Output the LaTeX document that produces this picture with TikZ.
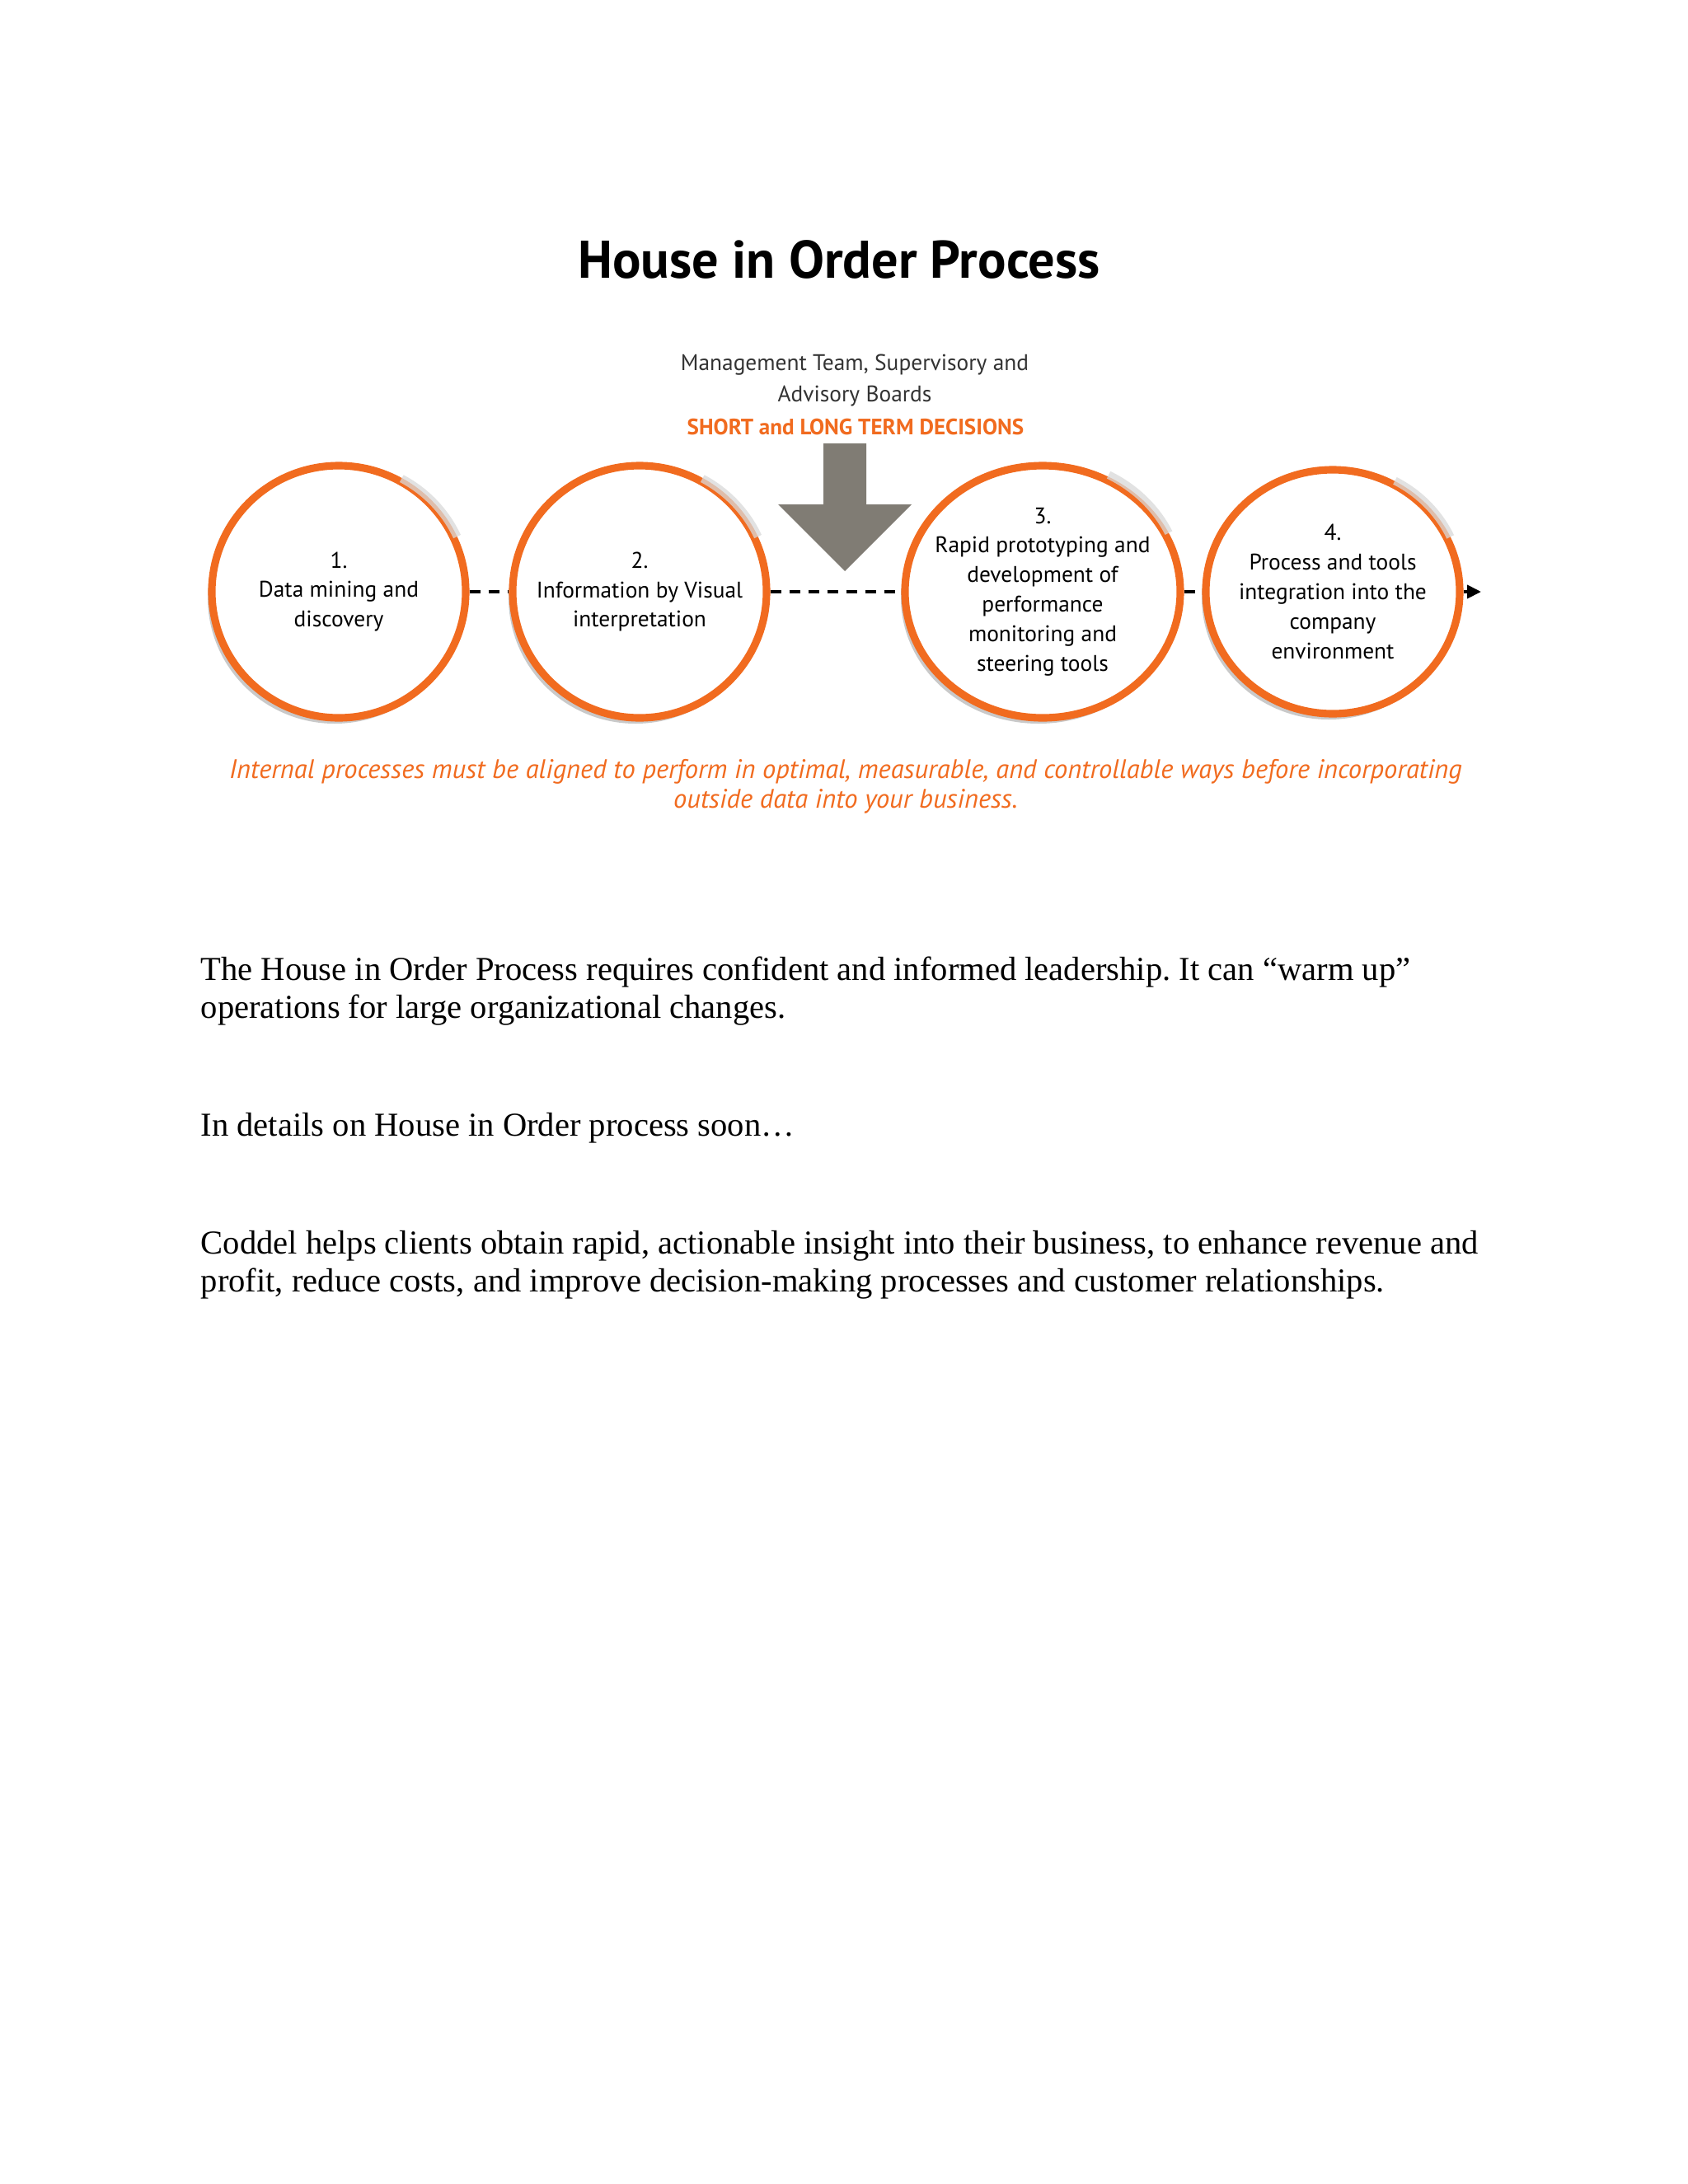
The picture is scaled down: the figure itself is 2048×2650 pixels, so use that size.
\documentclass[tikz,border=0pt]{standalone}
\usepackage{fontspec}
\setmainfont{Liberation Serif}
\newfontfamily\ptsans{PT Sans}
\usetikzlibrary{shapes,shadows,arrows.meta}
\frenchspacing

\definecolor{stepOrange}{RGB}{241,107,31}
\definecolor{arrowGray}{RGB}{128,124,116}

\begin{document}
\begin{tikzpicture}[
    x=0.1mm, y=-0.1mm,
    every node/.style={inner sep=0pt},
    TitleShape/.style={anchor=base, font=\ptsans\bfseries\fontsize{18.3}{22}\selectfont},
    BoardShape/.style={anchor=base, align=center, text=black!80,
        font=\ptsans\fontsize{7.8}{10.8}\selectfont},
    DecisionShape/.style={anchor=base, text=stepOrange,
        font=\ptsans\bfseries\fontsize{7.7}{10}\selectfont},
    StepShape/.style={ellipse, draw=stepOrange, line width=2.6pt, fill=white,
        align=center, inner sep=-6mm, minimum width=30.8mm, minimum height=30.6mm,
        drop shadow={shadow xshift=-0.5mm, shadow yshift=-0.7mm,
            opacity=0.35, fill=black!60},
        font=\ptsans\fontsize{7.8}{10.2}\selectfont},
    fadeArc/.style={draw=white!85!black, line width=2.8pt, opacity=0.75},
    flow/.style={line width=1.1pt, dash pattern=on 1.3mm off 1mm},
    NoteShape/.style={anchor=base, align=center, text=stepOrange,
        font=\ptsans\itshape\fontsize{9.25}{10.1}\selectfont},
    BodyShape/.style={anchor=base west, align=left,
        font=\fontsize{11.55}{13}\selectfont}
]
\useasboundingbox[fill=white] (0,0) rectangle (2048,2650);

% heading
\node (title) [TitleShape] at (1018,337) {House in Order Process};
\node (boards) [BoardShape] at (1037,487)
    {Management Team, Supervisory and\\Advisory Boards};
\node (decisions) [DecisionShape] at (1038,527) {SHORT and LONG TERM DECISIONS};

% the four steps
\node (s1) [StepShape] at (411,718) {1.\\Data mining and\\discovery};
\node (s2) [StepShape] at (776,718) {2.\\Information by Visual\\interpretation};
\node (s3) [StepShape, minimum width=33.4mm] at (1265,718)
    {3.\\Rapid prototyping and\\development of\\performance\\monitoring and\\steering tools};
\node (s4) [StepShape, minimum height=29.6mm] at (1617,718)
    {4.\\Process and tools\\integration into the\\company\\environment};
\coordinate (flowEnd) at (1797,718);

\draw[fadeArc] (s1.25) arc[start angle=25, end angle=62, x radius=15.4mm, y radius=15.3mm];
\draw[fadeArc] (s2.25) arc[start angle=25, end angle=62, x radius=15.4mm, y radius=15.3mm];
\draw[fadeArc] (s3.25) arc[start angle=25, end angle=62, x radius=16.7mm, y radius=15.3mm];
\draw[fadeArc] (s4.25) arc[start angle=25, end angle=62, x radius=15.4mm, y radius=14.8mm];

\draw[flow] (s1) -- (s2);
\draw[flow] (s2) -- (s3);
\draw[flow] (s3) -- (s4);
\draw[flow, -{Triangle[length=1.7mm, width=1.6mm]}] (s4) -- (flowEnd);

% decision arrow
\fill[arrowGray] (999,538) -- (1051,538) -- (1051,612) -- (1106,612)
    -- (1025,693) -- (944,612) -- (999,612) -- cycle;

\node (note) [NoteShape] at (1026,980)
    {Internal processes must be aligned to perform in optimal, measurable, and controllable ways before incorporating\\
     outside data into your business.};

% text below
\node (para1) [BodyShape] at (243,1235)
    {The House in Order Process requires confident and informed leadership. It can “warm up”\\
     operations for large organizational changes.};
\node (para2) [BodyShape] at (243,1378) {In details on House in Order process soon…};
\node (para3) [BodyShape] at (243,1567)
    {Coddel helps clients obtain rapid, actionable insight into their business, to enhance revenue and\\
     profit, reduce costs, and improve decision-making processes and customer relationships.};
\end{tikzpicture}
\end{document}
